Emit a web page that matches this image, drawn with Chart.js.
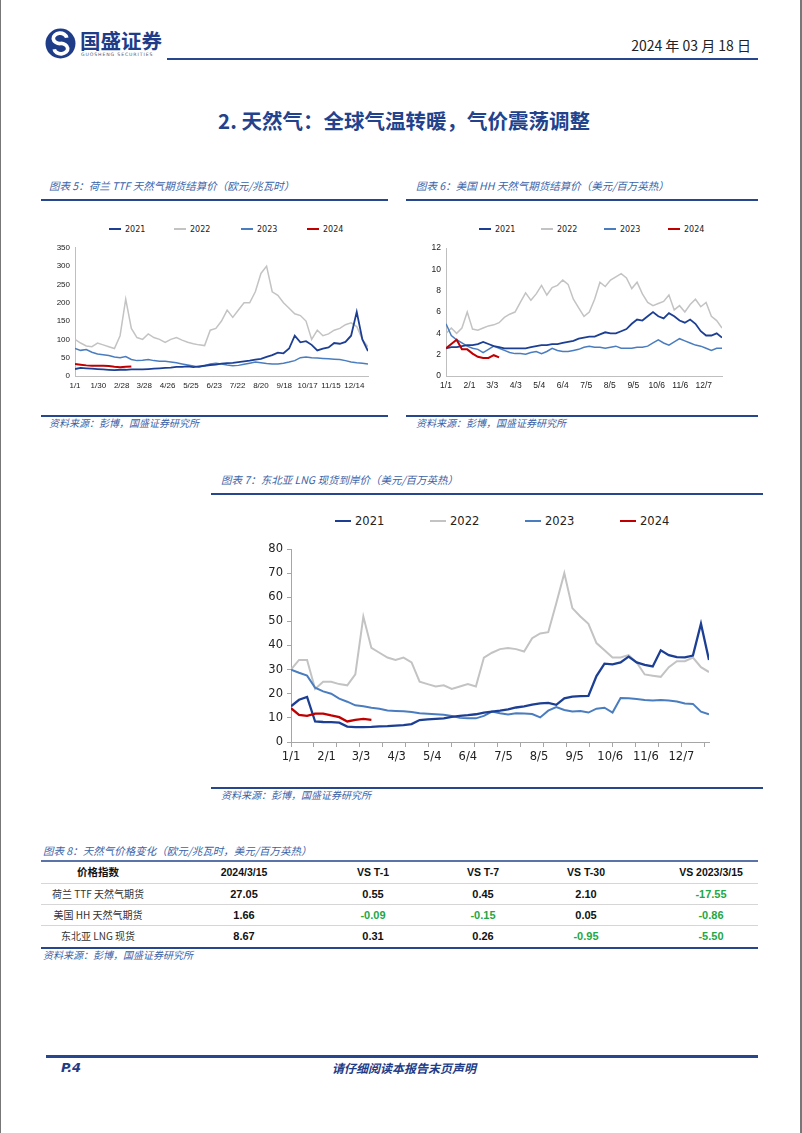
<!DOCTYPE html>
<html>
<head>
<meta charset="utf-8">
<script src="https://cdn.jsdelivr.net/npm/chart.js@4.4.1/dist/chart.umd.min.js"></script>
<style>
  html, body { margin: 0; padding: 0; background: #fff; }
  #page { position: relative; width: 802px; height: 1133px; box-sizing: border-box;
          border-left: 1px solid #777; border-right: 2px solid #777; overflow: hidden;
          font-family: "Noto Sans CJK SC", "DejaVu Sans", sans-serif; }
  .t { position: absolute; white-space: nowrap; line-height: 1; }
  .rule { position: absolute; height: 2px; background: #26478d; }
  .thin { position: absolute; height: 1px; background: #d6d6d6; }
  .figt { font-size: 10.5px; font-style: italic; color: #3b63a8; }
  .src { font-size: 10px; font-style: italic; color: #3b63a8; }
  .box { position: absolute; }
  .leg { position: absolute; display: flex; align-items: center; white-space: nowrap;
         font-family: "DejaVu Sans", sans-serif; color: #222; }
  .leg i { display: inline-block; margin-right: 4px; }
  .cell { position: absolute; transform: translateX(-50%); white-space: nowrap; line-height: 1; }
  .hd { font-weight: bold; font-size: 10.5px; color: #111; font-family: "Liberation Sans", "Noto Sans CJK SC", sans-serif; }
  .lab { font-size: 10px; color: #333; }
  .num { font-weight: bold; font-size: 11px; color: #111; font-family: "Liberation Sans", sans-serif; }
  .neg { color: #22a745; }
</style>
</head>
<body>
<div id="page">
  <!-- header -->
  <svg class="t" style="left:44px;top:28px" width="31" height="31" viewBox="0 0 30 30">
    <circle cx="15" cy="15" r="14.5" fill="#1f3c88"/>
    <path d="M21 9.5 A6.5 5 0 1 0 15 15 A6.5 5 0 1 1 9 20.5" stroke="#fff" stroke-width="3.6" fill="none"/>
  </svg>
  <div class="t" style="left:79px;top:30px;font-size:20.5px;font-weight:bold;color:#1f3c88">国盛证券</div>
  <div class="t" style="left:80px;top:53px;font-size:4.6px;letter-spacing:0.9px;color:#4a5a80;font-family:'DejaVu Sans'">GUOSHENG SECURITIES</div>
  <div class="t" style="right:49px;top:38px;font-size:14px;color:#222;font-family:'Liberation Sans Narrow','Noto Sans CJK SC',sans-serif">2024 年 03 月 18 日</div>
  <div class="rule" style="left:166px;top:58px;width:591px"></div>

  <div class="t" style="left:0;width:806px;text-align:center;top:110px;font-size:20.5px;font-weight:bold;color:#22428c">2. 天然气：全球气温转暖，气价震荡调整</div>

  <!-- figure 5 -->
  <div class="t figt" style="left:48px;top:181px">图表 5：荷兰 TTF 天然气期货结算价（欧元/兆瓦时）</div>
  <div class="rule" style="left:40px;top:199px;width:347px"></div>
  <div id="leg1"></div>
  <div class="box" style="left:40px;top:238px"><canvas id="ttf" width="334" height="152"></canvas></div>
  <div class="rule" style="left:40px;top:415px;width:347px"></div>
  <div class="t src" style="left:48px;top:418px">资料来源：彭博，国盛证券研究所</div>

  <!-- figure 6 -->
  <div class="t figt" style="left:415px;top:181px">图表 6：美国 HH 天然气期货结算价（美元/百万英热）</div>
  <div class="rule" style="left:405px;top:199px;width:352px"></div>
  <div id="leg2"></div>
  <div class="box" style="left:410px;top:238px"><canvas id="hh" width="318" height="152"></canvas></div>
  <div class="rule" style="left:405px;top:415px;width:352px"></div>
  <div class="t src" style="left:415px;top:418px">资料来源：彭博，国盛证券研究所</div>

  <!-- figure 7 -->
  <div class="t figt" style="left:220px;top:475px">图表 7：东北亚 LNG 现货到岸价（美元/百万英热）</div>
  <div class="rule" style="left:210px;top:493px;width:552px"></div>
  <div id="leg3"></div>
  <div class="box" style="left:250px;top:538px"><canvas id="lng" width="470" height="232"></canvas></div>
  <div class="rule" style="left:210px;top:787px;width:552px"></div>
  <div class="t src" style="left:220px;top:790px">资料来源：彭博，国盛证券研究所</div>

  <!-- table -->
  <div class="t figt" style="left:42px;top:846px">图表 8：天然气价格变化（欧元/兆瓦时，美元/百万英热）</div>
  <div class="rule" style="left:40px;top:860px;width:717px;background:#5a73a8"></div>
  <div id="table"></div>
  <div class="rule" style="left:40px;top:947px;width:717px"></div>
  <div class="t src" style="left:42px;top:950px">资料来源：彭博，国盛证券研究所</div>

  <!-- footer -->
  <div class="rule" style="left:45px;top:1055px;width:712px;height:3px"></div>
  <div class="t" style="left:60px;top:1061px;font-size:13px;font-weight:bold;font-style:italic;color:#1f3c88;font-family:'DejaVu Sans'">P.4</div>
  <div class="t" style="left:0;width:806px;text-align:center;top:1062px;font-size:12px;font-weight:bold;font-style:italic;color:#1f3c88">请仔细阅读本报告末页声明</div>
</div>

<script>
// shared weekly day-of-year positions (day 0 = 1/1)
const weekDays = [0, 7, 14, 21, 28, 35, 42, 49, 56, 63, 70, 77, 84, 91, 98, 105, 112, 119, 126, 133,
  140, 147, 154, 161, 168, 175, 182, 189, 196, 203, 210, 217, 224, 231, 238, 245, 252, 259, 266, 273,
  280, 287, 294, 301, 308, 315, 322, 329, 336, 343, 350, 357, 364];

const seriesNames = ['2021', '2022', '2023', '2024'];
const seriesColors = ['#1c3f94', '#c3c3c3', '#4a7dbf', '#c00000'];

// 荷兰 TTF
const ttfTickDays = [0, 29, 58, 86, 115, 144, 173, 202, 231, 260, 289, 318, 347];
const ttfTickLabels = ['1/1', '1/30', '2/28', '3/28', '4/26', '5/25', '6/23', '7/22', '8/20', '9/18', '10/17', '11/15', '12/14'];
const ttf2021 = [19, 22, 21, 20, 19, 18, 17, 16, 17, 17, 18, 18, 18, 19, 20, 21, 22, 23, 25, 25,
  26, 24, 26, 28, 30, 31, 34, 35, 36, 38, 40, 42, 45, 47, 52, 57, 64, 62, 75, 110,
  92, 95, 85, 70, 75, 78, 90, 88, 93, 110, 175, 100, 68];
const ttf2022 = [100, 90, 82, 80, 90, 85, 80, 75, 110, 210, 130, 105, 100, 115, 105, 100, 92, 100, 105, 98,
  92, 88, 85, 83, 125, 130, 150, 180, 160, 180, 200, 200, 230, 280, 300, 230, 220, 200, 185, 170,
  165, 150, 100, 125, 110, 115, 125, 130, 140, 145, 135, 100, 80];
const ttf2023 = [75, 70, 72, 65, 60, 58, 56, 52, 50, 53, 45, 42, 43, 45, 42, 40, 40, 38, 36, 33,
  30, 27, 24, 28, 33, 35, 33, 30, 28, 29, 32, 35, 38, 36, 34, 33, 33, 35, 38, 42,
  50, 52, 50, 49, 48, 47, 46, 45, 42, 38, 36, 35, 33];
const ttf2024 = [33, 31, 29, 28, 28, 28, 27, 25, 24, 25, 26];

// 美国 HH
const hhTickDays = [0, 31, 61, 92, 123, 154, 185, 216, 247, 278, 309, 340];
const hhTickLabels = ['1/1', '2/1', '3/3', '4/3', '5/4', '6/4', '7/5', '8/5', '9/5', '10/6', '11/6', '12/7'];
const hh2021 = [2.6, 2.7, 2.7, 2.8, 2.9, 2.9, 3.0, 3.2, 3.0, 2.8, 2.7, 2.6, 2.6, 2.6, 2.6, 2.6, 2.7, 2.8, 2.9, 2.9,
  3.0, 3.0, 3.1, 3.2, 3.3, 3.5, 3.6, 3.7, 3.7, 3.9, 4.1, 4.0, 4.0, 4.2, 4.4, 4.9, 5.3, 5.2, 5.6, 6.0,
  5.6, 5.4, 5.9, 5.6, 5.2, 5.0, 5.3, 4.9, 4.2, 3.8, 3.8, 4.0, 3.6];
const hh2022 = [4.0, 4.5, 4.0, 4.5, 6.0, 4.4, 4.3, 4.5, 4.7, 4.8, 5.0, 5.5, 5.8, 6.0, 6.9, 7.8, 7.1, 7.7, 8.5, 7.6,
  8.3, 8.5, 9.0, 8.6, 7.2, 6.4, 5.6, 6.0, 7.2, 8.8, 8.4, 9.0, 9.3, 9.6, 9.2, 8.2, 8.8, 7.7, 6.9, 6.6,
  6.8, 7.0, 7.6, 6.2, 6.6, 6.0, 6.7, 7.2, 6.5, 6.9, 5.6, 5.2, 4.5];
const hh2023 = [4.9, 3.8, 3.4, 3.1, 2.8, 2.6, 2.5, 2.2, 2.5, 2.8, 2.6, 2.4, 2.2, 2.1, 2.1, 2.05, 2.2, 2.3, 2.1, 2.3,
  2.6, 2.4, 2.3, 2.3, 2.4, 2.5, 2.7, 2.8, 2.7, 2.7, 2.6, 2.7, 2.8, 2.6, 2.6, 2.6, 2.7, 2.7, 2.8, 3.1,
  3.4, 3.1, 2.9, 3.2, 3.5, 3.3, 3.1, 2.9, 2.8, 2.6, 2.4, 2.6, 2.6];
const hh2024 = [2.6, 3.0, 3.4, 2.5, 2.5, 2.1, 1.8, 1.7, 1.7, 1.95, 1.75];

// 东北亚 LNG
const lngMarkDays = [0, 20, 40, 60, 80, 100, 120, 140, 160, 180, 200, 220, 240, 260, 280, 300, 320, 340, 360];
const lng2021 = [14.8, 17.5, 18.7, 8.5, 8.3, 8.2, 8.0, 6.4, 6.2, 6.2, 6.3, 6.5, 6.6, 6.8, 7.0, 7.4, 9.1, 9.4, 9.6, 9.8,
  10.4, 10.8, 11.1, 11.5, 12.2, 12.6, 13.0, 13.5, 14.3, 14.8, 15.5, 16.0, 16.2, 15.4, 18.1, 18.8, 19.0, 19.1, 27.3, 32.5,
  32.2, 33.0, 35.4, 33.0, 32.0, 31.3, 38.0, 36.0, 35.2, 35.1, 35.8, 49.0, 34.0];
const lng2022 = [30, 34, 34, 22, 25, 25, 24, 23.5, 28, 52, 39, 37, 35, 34, 35, 33, 25, 24, 23, 23.5,
  22, 23, 24, 23, 35, 37, 38.5, 39, 38.5, 37.5, 43, 45, 45.5, 57.5, 70, 55.5, 52, 49, 41, 38,
  35, 35, 36, 33, 28, 27.5, 27, 31, 33.5, 33.5, 35, 31, 29];
const lng2023 = [30, 28.7, 27.5, 22.5, 21, 20, 18, 16.7, 15.2, 14.8, 14.2, 13.8, 13.1, 12.9, 12.7, 12.4, 11.9, 11.7, 11.5, 11.3,
  10.8, 10.0, 9.8, 9.8, 10.8, 12.6, 11.9, 11.4, 11.9, 11.8, 11.6, 10.2, 13.0, 14.5, 13.3, 12.6, 12.8, 12.2, 13.8, 14.2,
  12.2, 18.2, 18.1, 17.8, 17.4, 17.2, 17.4, 17.2, 16.8, 16.0, 15.8, 12.6, 11.5];
const lng2024 = [14, 11.2, 10.8, 11.8, 11.8, 11.0, 10.3, 8.5, 9.2, 9.6, 9.2];

// 表 8
const tableHeads = ['价格指数', '2024/3/15', 'VS T-1', 'VS T-7', 'VS T-30', 'VS 2023/3/15'];
const tableRows = ['荷兰 TTF 天然气期货', '美国 HH 天然气期货', '东北亚 LNG 现货'];
const tableValues = [
  ['27.05', '0.55', '0.45', '2.10', '-17.55'],
  ['1.66', '-0.09', '-0.15', '0.05', '-0.86'],
  ['8.67', '0.31', '0.26', '-0.95', '-5.50']
];
const colCenters = [97, 243, 372, 482, 585, 710];
const rowTops = [867, 889, 910, 931];

function legend(id, starts, top, fontSize, lineLen, widths) {
  const host = document.getElementById(id);
  seriesNames.forEach((name, i) => {
    const el = document.createElement('div');
    el.className = 'leg';
    el.style.left = starts[i] + 'px';
    el.style.top = (top - fontSize / 2) + 'px';
    el.style.fontSize = fontSize + 'px';
    el.style.height = fontSize + 'px';
    el.innerHTML = `<i style="width:${lineLen}px;height:${widths[i]}px;background:${seriesColors[i]}"></i>${name}`;
    host.appendChild(el);
  });
}

function buildChart(id, series, o) {
  const drawOrder = [1, 3, 2, 0];
  const datasets = series.map((vals, i) => ({
    label: seriesNames[i],
    data: vals.map((v, k) => ({ x: weekDays[k], y: v })),
    borderColor: seriesColors[i],
    borderWidth: o.widths[i],
    pointRadius: 0,
    tension: 0,
    fill: false,
    order: drawOrder[i]
  }));

  const labelAt = {};
  o.tickDays.forEach((d, i) => { labelAt[d] = o.tickLabels[i]; });
  const marks = o.markDays || [];
  const allTicks = [...new Set([...o.tickDays, ...marks])].sort((a, b) => a - b);
  const font = { family: o.fontFamily, size: o.fontSize };

  return new Chart(document.getElementById(id), {
    type: 'line',
    data: { datasets },
    options: {
      responsive: false,
      animation: false,
      devicePixelRatio: 1,
      layout: { padding: { top: o.padTop, right: o.padRight, left: 0, bottom: 0 } },
      plugins: { legend: { display: false }, tooltip: { enabled: false } },
      scales: {
        x: {
          type: 'linear',
          min: 0,
          max: 364,
          afterBuildTicks(axis) {
            axis.ticks = allTicks.map((v) => ({ value: v }));
          },
          afterFit(axis) { axis.height = o.xHeight; },
          ticks: {
            autoSkip: false,
            maxRotation: 0,
            padding: o.xPad,
            color: '#222',
            font,
            callback: (v) => (labelAt[v] !== undefined ? labelAt[v] : '')
          },
          grid: {
            drawOnChartArea: false,
            drawTicks: marks.length > 0,
            tickLength: 5,
            tickColor: (ctx) => (ctx.tick && marks.includes(ctx.tick.value) ? o.axisColor : 'rgba(0,0,0,0)')
          },
          border: { color: o.axisColor, width: 1 }
        },
        y: {
          min: 0,
          max: o.yMax,
          afterFit(axis) { axis.width = o.yWidth; },
          ticks: { stepSize: o.yStep, padding: o.yPad, color: '#222', font },
          grid: {
            drawOnChartArea: false,
            drawTicks: o.yTick > 0,
            tickLength: o.yTick,
            tickColor: o.axisColor
          },
          border: { color: o.axisColor, width: 1 }
        }
      }
    }
  });
}

legend('leg1', [108, 173, 240, 306], 229, 8, 12, [2, 1.5, 1.5, 2]);
legend('leg2', [478, 540, 603, 667], 229, 8, 12, [2, 1.5, 1.5, 2]);
legend('leg3', [334, 429, 524, 619], 521, 11.5, 16, [2.5, 2, 2, 2.5]);

buildChart('ttf', [ttf2021, ttf2022, ttf2023, ttf2024], {
  tickDays: ttfTickDays, tickLabels: ttfTickLabels,
  yMax: 350, yStep: 50, fontFamily: 'Liberation Sans', fontSize: 8, widths: [1.8, 1.5, 1.5, 2],
  padTop: 9.5, padRight: 7, yWidth: 34, xHeight: 14, xPad: 5, yPad: 5, yTick: 0,
  axisColor: '#bfbfbf'
});

buildChart('hh', [hh2021, hh2022, hh2023, hh2024], {
  tickDays: hhTickDays, tickLabels: hhTickLabels,
  yMax: 12, yStep: 2, fontFamily: 'Liberation Sans', fontSize: 8.5, widths: [1.8, 1.5, 1.5, 2],
  padTop: 9.5, padRight: 7, yWidth: 35, xHeight: 14, xPad: 5, yPad: 5, yTick: 0,
  axisColor: '#bfbfbf'
});

buildChart('lng', [lng2021, lng2022, lng2023, lng2024], {
  tickDays: hhTickDays, tickLabels: hhTickLabels, markDays: lngMarkDays,
  yMax: 80, yStep: 10, fontFamily: 'DejaVu Sans', fontSize: 11.5, widths: [2.3, 2, 2, 2.3],
  padTop: 11, padRight: 12, yWidth: 40, xHeight: 28, xPad: 3, yPad: 4, yTick: 4,
  axisColor: '#a6a6a6'
});

// table
const tbl = document.getElementById('table');
tableHeads.forEach((h, c) => {
  const el = document.createElement('div');
  el.className = 'cell hd';
  el.style.left = colCenters[c] + 'px';
  el.style.top = rowTops[0] + 'px';
  el.textContent = h;
  tbl.appendChild(el);
});
tableRows.forEach((name, r) => {
  const lab = document.createElement('div');
  lab.className = 'cell lab';
  lab.style.left = colCenters[0] + 'px';
  lab.style.top = rowTops[r + 1] + 'px';
  lab.textContent = name;
  tbl.appendChild(lab);
  tableValues[r].forEach((v, c) => {
    const el = document.createElement('div');
    el.className = 'cell num' + (c > 0 && v.startsWith('-') ? ' neg' : '');
    el.style.left = colCenters[c + 1] + 'px';
    el.style.top = rowTops[r + 1] + 'px';
    el.textContent = v;
    tbl.appendChild(el);
  });
});
[883, 904, 925].forEach((y) => {
  const ln = document.createElement('div');
  ln.className = 'thin';
  ln.style.left = '40px';
  ln.style.top = y + 'px';
  ln.style.width = '717px';
  tbl.appendChild(ln);
});
</script>
</body>
</html>
